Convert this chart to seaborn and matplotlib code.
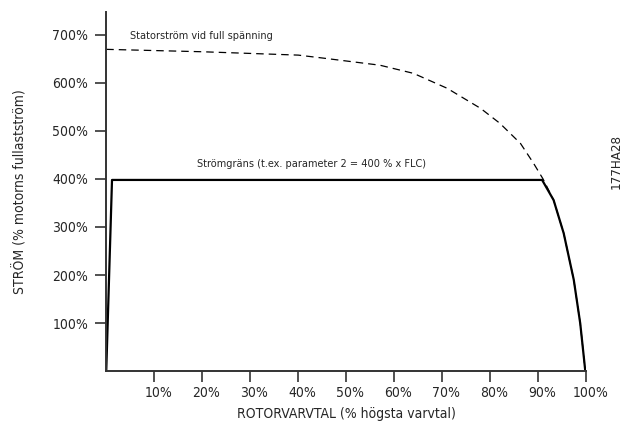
import matplotlib
matplotlib.use('Agg')
import matplotlib.pyplot as plt
import matplotlib.transforms as mtransforms
import seaborn as sns
import pandas as pd

# rotor speed (% of max) vs stator current (% of FLC)
speed_full = [0, 20, 40, 45, 57, 64, 71, 78, 82, 86.3, 89, 91, 93.2, 95.3, 97.4, 98.75, 99.8]
current_full = [670, 665, 658, 652, 637, 620, 589, 547, 516, 474, 433, 400, 356, 287, 190, 99, 0]

speed_limit = [0, 1.2, 90.8, 93.2, 95.3, 97.4, 98.75, 99.8]
current_limit = [0, 398, 398, 356, 287, 190, 99, 0]

x_ticks = [10, 20, 30, 40, 50, 60, 70, 80, 90, 100]
y_ticks = [100, 200, 300, 400, 500, 600, 700]

df_full = pd.DataFrame({'speed': speed_full, 'current': current_full})
df_limit = pd.DataFrame({'speed': speed_limit, 'current': current_limit})

sns.set_style('ticks')
plt.rcParams['font.family'] = ['DejaVu Sans']
plt.rcParams['font.stretch'] = 'condensed'

fig, ax = plt.subplots(figsize=(6.25, 4.25), dpi=100)
fig.subplots_adjust(left=0.17, right=0.938, top=0.972, bottom=0.127)

sns.lineplot(data=df_full, x='speed', y='current', color='black', linewidth=0.9,
             linestyle=(0, (6, 4)), ax=ax)
sns.lineplot(data=df_limit, x='speed', y='current', color='black', linewidth=1.6, ax=ax)

ax.set_xlim(0, 100)
ax.set_ylim(0, 748)
ax.set_xticks(x_ticks)
ax.set_xticklabels([f'{v}%' for v in x_ticks])
ax.set_yticks(y_ticks)
ax.set_yticklabels([f'{v}%' for v in y_ticks])
ax.tick_params(axis='both', labelsize=10, length=8, width=1.2, color='#333333', pad=3)
ax.tick_params(axis='y', pad=5)
for s in ['left', 'bottom']:
    ax.spines[s].set_linewidth(1.4)
    ax.spines[s].set_color('#333333')
sns.despine(ax=ax)

# x tick labels sit slightly right of their ticks in the original
shift = mtransforms.ScaledTranslation(4 / 100, 0, fig.dpi_scale_trans)
for lbl in ax.get_xticklabels():
    lbl.set_transform(lbl.get_transform() + shift)

ax.set_xlabel('ROTORVARVTAL (% högsta varvtal)', fontsize=10, labelpad=5)
ax.set_ylabel('STRÖM (% motorns fullastström)', fontsize=10, labelpad=18)

ax.text(5, 698, 'Statorström vid full spänning', fontsize=7.8, va='center', ha='left')
ax.text(19, 431, 'Strömgräns (t.ex. parameter 2 = 400 % x FLC)', fontsize=7.8,
        va='center', ha='left')
fig.text(0.996, 0.62, '177HA28', rotation=90, fontsize=9.5, ha='right', va='center')

fig.savefig('out.png', dpi=100)
